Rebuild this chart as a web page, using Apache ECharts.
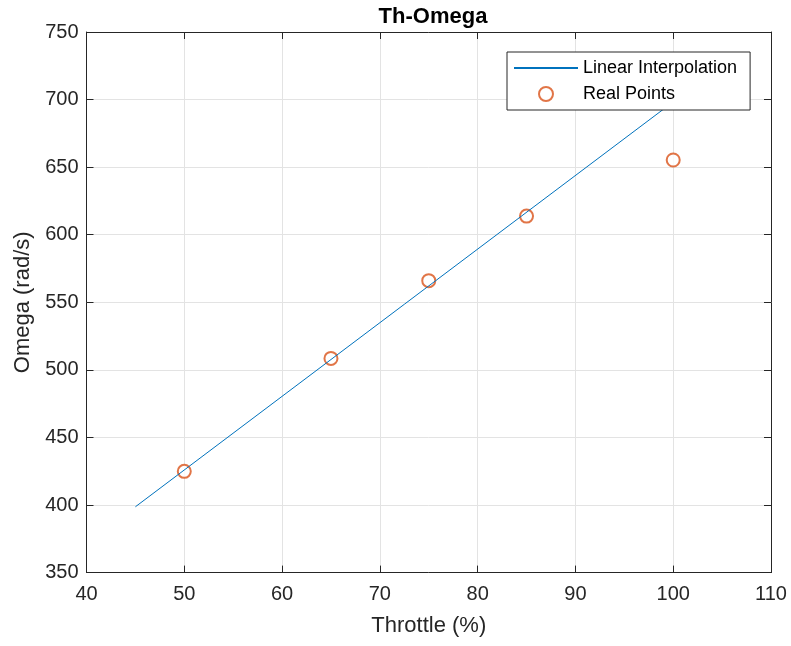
<!DOCTYPE html>
<html>
<head>
<meta charset="utf-8">
<title>Th-Omega</title>
<script src="https://cdn.jsdelivr.net/npm/echarts@6/dist/echarts.min.js"></script>
<style>
html,body{margin:0;padding:0;background:#fff;}
#main{width:791px;height:646px;}
</style>
</head>
<body>
<div id="main"></div>
<script>
// throttle (%) -> omega (rad/s)
var fitX = [45, 100];
var fitY = [398.7, 698.3];
var realX = [50, 65, 75, 85, 100];
var realY = [424.9, 508.5, 566, 613.8, 655.3];
var xTicks = [40, 50, 60, 70, 80, 90, 100, 110];
var yTicks = [350, 400, 450, 500, 550, 600, 650, 700, 750];

var font = 'Liberation Sans';
var dark = '#262626';

function pairs(xs, ys){
	var out = [];
	for (var i = 0; i < xs.length; i++) out.push([xs[i], ys[i]]);
	return out;
}

var myChart = echarts.init(document.getElementById('main'));

function boxAxis(show, min, max, step){
	return {
		type: 'value', min: min, max: max, interval: step,
		axisLine: {show: true, onZero: false, lineStyle: {color: dark, width: 1}},
		axisTick: {show: true, inside: true, length: 7, lineStyle: {color: dark}},
		axisLabel: {show: show, color: dark, fontFamily: font, fontSize: 20},
		splitLine: {show: show, lineStyle: {color: '#e3e3e3', width: 1}}
	};
}

var xBottom = boxAxis(true, xTicks[0], xTicks[xTicks.length-1], 10);
xBottom.position = 'bottom';
xBottom.axisLabel.margin = 12;
xBottom.name = 'Throttle (%)';
xBottom.nameLocation = 'middle';
xBottom.nameGap = 42;
xBottom.nameTextStyle = {color: dark, fontFamily: font, fontSize: 22};
var xTop = boxAxis(false, xTicks[0], xTicks[xTicks.length-1], 10);
xTop.position = 'top';

var yLeft = boxAxis(true, yTicks[0], yTicks[yTicks.length-1], 50);
yLeft.position = 'left';
yLeft.axisLabel.margin = 8;
yLeft.name = 'Omega (rad/s)';
yLeft.nameLocation = 'middle';
yLeft.nameGap = 48;
yLeft.nameTextStyle = {color: dark, fontFamily: font, fontSize: 22};
var yRight = boxAxis(false, yTicks[0], yTicks[yTicks.length-1], 50);
yRight.position = 'right';

var option = {
	animation: false,
	backgroundColor: '#fff',
	title: {
		text: 'Th-Omega',
		left: 428, top: 1,
		textAlign: 'center',
		textStyle: {color: '#000', fontFamily: font, fontSize: 22, fontWeight: 'bold'}
	},
	grid: {left: 86.5, right: 20, top: 32, bottom: 73.4},
	legend: {
		orient: 'vertical',
		left: 507, top: 52,
		padding: [6, 13, 6, 6],
		itemWidth: 64, itemHeight: 14, itemGap: 6,
		backgroundColor: '#fff',
		borderColor: dark, borderWidth: 1,
		textStyle: {color: '#000', fontFamily: font, fontSize: 18, lineHeight: 20},
		data: [
			{name: 'Linear Interpolation', itemStyle: {opacity: 0}},
			{name: 'Real Points', icon: 'emptyCircle'}
		]
	},
	xAxis: [xBottom, xTop],
	yAxis: [yLeft, yRight],
	series: [
		{
			name: 'Linear Interpolation',
			type: 'line',
			data: pairs(fitX, fitY),
			symbol: 'none',
			lineStyle: {color: '#0072BD', width: 1},
			itemStyle: {color: '#0072BD'}
		},
		{
			name: 'Real Points',
			type: 'scatter',
			data: pairs(realX, realY),
			symbol: 'emptyCircle',
			symbolSize: 13,
			itemStyle: {color: '#D95319', borderColor: '#D95319', borderWidth: 1.3}
		}
	]
};

myChart.setOption(option);
</script>
</body>
</html>
